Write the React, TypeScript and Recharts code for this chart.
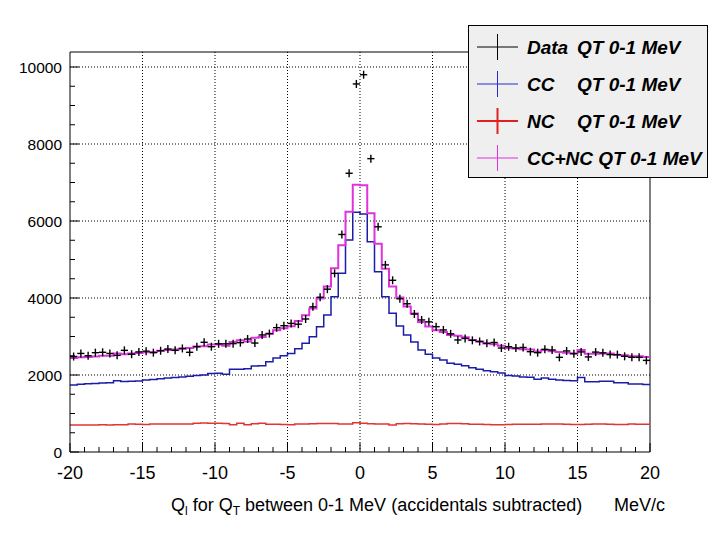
import React from 'react';
import { ComposedChart, Line, Scatter, XAxis, YAxis, ReferenceLine, Legend } from 'recharts';

const BIN_LOW = -20;
const BIN_WIDTH = 0.5;

const DATA_COUNTS = [
  2480, 2560, 2500, 2580, 2590, 2560, 2510, 2640, 2540, 2600,
  2620, 2580, 2630, 2675, 2640, 2690, 2590, 2735, 2850, 2735,
  2810, 2810, 2815, 2840, 2935, 2830, 3040, 3075, 3230, 3280,
  3340, 3320, 3455, 3770, 4020, 4230, 4640, 5650, 7240, 9560,
  9800, 7620, 5850, 4860, 4460, 3980, 3850, 3585, 3430, 3380,
  3255, 3170, 3070, 2910, 2950, 2900, 2870, 2823, 2845, 2700,
  2735, 2700, 2715, 2606, 2580, 2667, 2650, 2459, 2625, 2555,
  2600, 2470, 2595, 2575, 2530, 2530, 2485, 2459, 2459, 2380,
];

const CC_COUNTS = [
  1740, 1760, 1770, 1780, 1790, 1800, 1850, 1830, 1835, 1845,
  1870, 1880, 1900, 1920, 1935, 1950, 1970, 1985, 2000, 2040,
  2043, 2020, 2150, 2150, 2160, 2234, 2240, 2346, 2440, 2500,
  2560, 2680, 2823, 2995, 3255, 3558, 4035, 4640, 5506, 6225,
  6180, 5463, 4684, 4035, 3602, 3273, 3040, 2860, 2650, 2540,
  2440, 2390, 2303, 2277, 2242, 2190, 2147, 2112, 2086, 2050,
  1985, 1975, 1945, 1940, 1890, 1920, 1890, 1870, 1855, 1850,
  1935, 1826, 1826, 1835, 1835, 1800, 1800, 1766, 1766, 1755,
];

const NC_COUNTS = [
  700, 700, 702, 700, 705, 703, 705, 708, 725, 720,
  715, 725, 727, 725, 728, 725, 730, 750, 752, 748,
  745, 740, 705, 750, 705, 735, 745, 722, 720, 715,
  705, 725, 730, 735, 738, 740, 738, 725, 730, 762,
  745, 735, 730, 728, 700, 735, 738, 736, 725, 720,
  715, 730, 738, 740, 735, 720, 718, 712, 710, 710,
  712, 718, 720, 720, 722, 725, 725, 726, 722, 712,
  715, 720, 725, 728, 722, 715, 712, 725, 720, 718,
];

const SUM_COUNTS = [
  2440, 2460, 2470, 2480, 2500, 2500, 2560, 2540, 2560, 2570,
  2590, 2600, 2630, 2650, 2660, 2680, 2700, 2740, 2750, 2790,
  2790, 2760, 2860, 2900, 2870, 2970, 2990, 3070, 3160, 3215,
  3265, 3405, 3550, 3730, 3990, 4300, 4770, 5370, 6240, 6940,
  6930, 6200, 5410, 4760, 4300, 4010, 3780, 3600, 3380, 3260,
  3160, 3120, 3040, 3020, 2980, 2910, 2870, 2820, 2800, 2760,
  2700, 2690, 2670, 2660, 2610, 2650, 2620, 2600, 2580, 2560,
  2650, 2550, 2550, 2560, 2560, 2520, 2510, 2490, 2490, 2470,
];

const X_MAJOR_TICKS = [-20, -15, -10, -5, 0, 5, 10, 15, 20];
const Y_MAJOR_TICKS = [0, 2000, 4000, 6000, 8000, 10000];
const X_GRID = [-15, -10, -5, 0, 5, 10, 15];
const Y_GRID = [2000, 4000, 6000, 8000, 10000];
const Y_MAX = 10390;

const X_ALL_TICKS: number[] = [];
for (let v = -20; v <= 20; v += 1) X_ALL_TICKS.push(v);
const Y_ALL_TICKS: number[] = [];
for (let v = 0; v <= 10000; v += 500) Y_ALL_TICKS.push(v);

const LEGEND_ITEMS = [
  { name: 'Data', label: 'Data', qt: 'QT 0-1 MeV', color: '#000000', width: 1 },
  { name: 'CC', label: 'CC', qt: 'QT 0-1 MeV', color: '#2a2ad0', width: 1 },
  { name: 'NC', label: 'NC', qt: 'QT 0-1 MeV', color: '#e02020', width: 2 },
  { name: 'CC+NC', label: 'CC+NC QT 0-1 MeV', qt: '', color: '#e030e0', width: 1 },
];

const COLORS = { cc: '#1c1caa', nc: '#e03535', sum: '#dd33dd', data: '#000000' };
const FONT = '"Liberation Sans", Arial, Helvetica, sans-serif';

const nBins = DATA_COUNTS.length;
const histRows = Array.from({ length: nBins + 1 }, (_, i) => {
  const k = Math.min(i, nBins - 1);
  return { x: BIN_LOW + i * BIN_WIDTH, cc: CC_COUNTS[k], nc: NC_COUNTS[k], sum: SUM_COUNTS[k] };
});
const dataRows = DATA_COUNTS.map((v, i) => ({ x: BIN_LOW + (i + 0.5) * BIN_WIDTH, y: v }));

const XTick = (props: any) => {
  const { x, y, payload } = props;
  const v = payload.value;
  const major = X_MAJOR_TICKS.includes(v);
  return (
    <g>
      <line x1={x} x2={x} y1={y} y2={y - (major ? 9 : 5)} stroke="#000" strokeWidth={1} />
      {major && (
        <text x={x} y={y + 27} textAnchor="middle" fontSize={18} fontFamily={FONT} fill="#000">
          {String(v)}
        </text>
      )}
    </g>
  );
};

const YTick = (props: any) => {
  const { x, y, payload } = props;
  const v = payload.value;
  const major = Y_MAJOR_TICKS.includes(v);
  return (
    <g>
      <line x1={x} x2={x + (major ? 9 : 5)} y1={y} y2={y} stroke="#000" strokeWidth={1} />
      {major && (
        <text x={x - 8} y={y + 5.5} textAnchor="end" fontSize={15.5} fontFamily={FONT} fill="#000">
          {String(v)}
        </text>
      )}
    </g>
  );
};

const Cross = (props: any) => {
  const { cx, cy } = props;
  if (cx == null || cy == null) return null;
  return (
    <g>
      <line x1={cx - 3.6} x2={cx + 3.6} y1={cy} y2={cy} stroke="#000" strokeWidth={1.4} />
      <line x1={cx} x2={cx} y1={cy - 4} y2={cy + 4} stroke="#000" strokeWidth={1.4} />
    </g>
  );
};

const LegendBox = () => (
  <svg width={241} height={154} style={{ display: 'block' }}>
    <rect x={0.5} y={0.5} width={239} height={152} fill="#efefef" stroke="#000" strokeWidth={1} />
    {LEGEND_ITEMS.map((it, i) => {
      const cy = 22 + i * 37;
      const ts = { fontSize: 19, fontWeight: 'bold' as const, fontStyle: 'italic' as const, fontFamily: FONT, fill: '#000' };
      return (
        <g key={it.name}>
          <line x1={9} x2={50} y1={cy} y2={cy} stroke={it.color} strokeWidth={it.width} />
          <line x1={29.5} x2={29.5} y1={cy - 13} y2={cy + 13} stroke={it.color} strokeWidth={it.width} />
          <text x={59} y={cy + 7} {...ts}>{it.label}</text>
          {it.qt && <text x={109} y={cy + 7} {...ts}>{it.qt}</text>}
        </g>
      );
    })}
  </svg>
);

const AxisTitle = () => (
  <g>
    <text x={171} y={511} fontSize={18} fontFamily={FONT} fill="#000">
      <tspan>Q</tspan>
      <tspan fontSize={12} dy={4}>l</tspan>
      <tspan dy={-4}> for Q</tspan>
      <tspan fontSize={12} dy={4}>T</tspan>
      <tspan dy={-4}> between 0-1 MeV (accidentals subtracted)</tspan>
    </text>
    <text x={614} y={511} fontSize={18} fontFamily={FONT} fill="#000">
      MeV/c
    </text>
  </g>
);

export default function App() {
  return (
    <div style={{ position: 'absolute', left: 0, top: 0, width: 720, height: 540, background: '#fff' }}>
      <ComposedChart width={720} height={540} margin={{ top: 52, right: 70, bottom: 28, left: 10 }}>
        <XAxis
          type="number"
          dataKey="x"
          domain={[-20, 20]}
          ticks={X_ALL_TICKS}
          interval={0}
          height={60}
          tickSize={0}
          tickMargin={0}
          tickLine={false}
          axisLine={{ stroke: '#000' }}
          tick={<XTick />}
          allowDataOverflow
          label={{ content: () => <AxisTitle /> }}
        />
        <YAxis
          type="number"
          domain={[0, Y_MAX]}
          ticks={Y_ALL_TICKS}
          interval={0}
          width={60}
          tickSize={0}
          tickMargin={0}
          tickLine={false}
          axisLine={{ stroke: '#000' }}
          tick={<YTick />}
          allowDataOverflow
        />
        {X_GRID.map((v) => (
          <ReferenceLine key={'gx' + v} x={v} stroke="#000" strokeDasharray="1 2" />
        ))}
        {Y_GRID.map((v) => (
          <ReferenceLine key={'gy' + v} y={v} stroke="#000" strokeDasharray="1 2" />
        ))}
        <ReferenceLine x={20} stroke="#000" />
        <ReferenceLine y={Y_MAX} stroke="#000" />
        <Line data={histRows} dataKey="nc" type="stepAfter" stroke={COLORS.nc} strokeWidth={1.5} dot={false} isAnimationActive={false} />
        <Line data={histRows} dataKey="cc" type="stepAfter" stroke={COLORS.cc} strokeWidth={1.5} dot={false} isAnimationActive={false} />
        <Line data={histRows} dataKey="sum" type="stepAfter" stroke={COLORS.sum} strokeWidth={2} dot={false} isAnimationActive={false} />
        <Scatter data={dataRows} dataKey="y" shape={<Cross />} isAnimationActive={false} />
        <Legend
          layout="vertical"
          align="center"
          verticalAlign="middle"
          content={() => <LegendBox />}
          wrapperStyle={{ position: 'absolute', left: 468, top: 25, width: 241, height: 154 }}
        />
      </ComposedChart>
    </div>
  );
}
